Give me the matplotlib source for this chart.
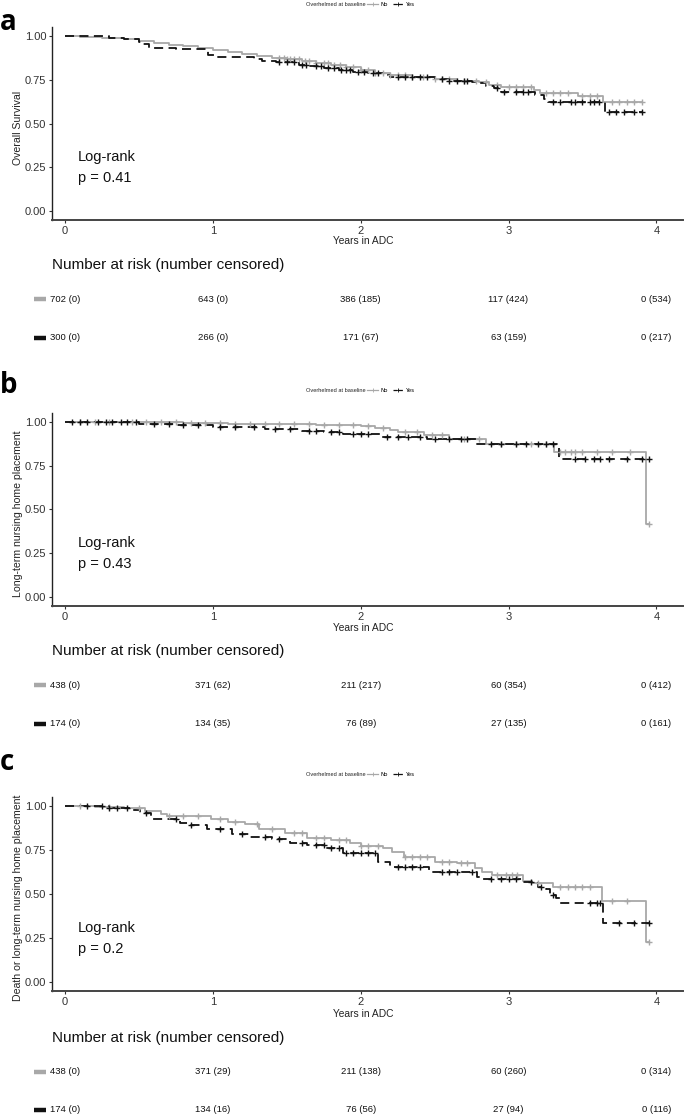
import numpy as np
import matplotlib
matplotlib.use("Agg")
import matplotlib.pyplot as plt
from matplotlib.lines import Line2D
from matplotlib.transforms import blended_transform_factory

W, H = 685, 1114
NARROW = ["Liberation Sans Narrow", "Liberation Sans", "DejaVu Sans"]
REG = ["Liberation Sans", "DejaVu Sans"]
GRAY = "#a8a8a8"
BLACK = "#111111"

# ---------------- data ----------------
# Panel a: overall survival
a_no_t = [0.10, 0.25, 0.40, 0.50, 0.60, 0.70, 0.80, 0.90, 1.00, 1.10, 1.20, 1.30, 1.40, 1.50,
          1.60, 1.70, 1.80, 1.90, 2.00, 2.10, 2.20, 2.35, 2.50, 2.65, 2.80, 2.87, 2.95, 3.17,
          3.21, 3.47, 3.64]
a_no_s = [0.995, 0.99, 0.98, 0.97, 0.96, 0.948, 0.94, 0.93, 0.918, 0.908, 0.897, 0.885, 0.876,
          0.866, 0.855, 0.846, 0.835, 0.822, 0.806, 0.787, 0.775, 0.765, 0.755, 0.745, 0.735,
          0.72, 0.71, 0.69, 0.672, 0.657, 0.623]
a_no_end = 3.90
a_no_cens = [1.45, 1.48, 1.50, 1.52, 1.55, 1.58, 1.62, 1.65, 1.70, 1.75, 1.78, 1.82, 1.86, 1.90,
             1.95, 2.00, 2.05, 2.10, 2.15, 2.20, 2.25, 2.30, 2.35, 2.42, 2.50, 2.55, 2.60, 2.70,
             2.78, 2.85, 2.92, 3.00, 3.05, 3.10, 3.15, 3.25, 3.30, 3.35, 3.40, 3.50, 3.55, 3.60,
             3.70, 3.75, 3.80, 3.85, 3.90]
a_yes_t = [0.15, 0.30, 0.40, 0.50, 0.53, 0.57, 0.75, 0.97, 1.01, 1.28, 1.33, 1.43, 1.58, 1.65,
           1.75, 1.85, 1.95, 2.05, 2.15, 2.20, 2.50, 2.60, 2.75, 2.80, 2.85, 2.90, 2.95, 3.18,
           3.24, 3.27, 3.65]
a_yes_s = [0.997, 0.99, 0.98, 0.965, 0.955, 0.93, 0.922, 0.89, 0.878, 0.865, 0.857, 0.848, 0.835,
           0.826, 0.815, 0.805, 0.795, 0.785, 0.775, 0.763, 0.755, 0.745, 0.738, 0.728, 0.715,
           0.70, 0.68, 0.665, 0.64, 0.62, 0.567]
a_yes_end = 3.90
a_yes_cens = [1.45, 1.50, 1.55, 1.60, 1.63, 1.70, 1.73, 1.78, 1.82, 1.87, 1.90, 1.93, 1.98, 2.02,
              2.08, 2.12, 2.25, 2.30, 2.35, 2.40, 2.45, 2.55, 2.60, 2.65, 2.70, 2.72, 2.92, 2.97,
              3.05, 3.10, 3.13, 3.30, 3.35, 3.42, 3.45, 3.50, 3.55, 3.58, 3.61, 3.68, 3.73, 3.78,
              3.85, 3.90]

# Panel b: long-term nursing home placement
b_no_t = [0.40, 0.80, 1.10, 1.40, 1.70, 2.00, 2.10, 2.20, 2.25, 2.43, 2.60, 2.85, 3.31, 3.93]
b_no_s = [0.998, 0.995, 0.99, 0.985, 0.98, 0.975, 0.965, 0.955, 0.94, 0.926, 0.903, 0.874, 0.83, 0.415]
b_no_end = 3.95
b_no_cens = [0.10, 0.20, 0.30, 0.45, 0.55, 0.65, 0.75, 0.85, 0.95, 1.05, 1.15, 1.25, 1.35, 1.45,
             1.55, 1.65, 1.75, 1.85, 1.95, 2.05, 2.15, 2.30, 2.38, 2.48, 2.55, 2.70, 2.80, 2.95,
             3.05, 3.15, 3.25, 3.35, 3.38, 3.42, 3.45, 3.50, 3.60, 3.70, 3.82, 3.95]
b_yes_t = [0.50, 0.75, 1.00, 1.35, 1.60, 1.75, 1.88, 2.13, 2.45, 2.78, 3.34]
b_yes_s = [0.99, 0.98, 0.97, 0.96, 0.95, 0.94, 0.93, 0.915, 0.90, 0.873, 0.787]
b_yes_end = 3.95
b_yes_cens = [0.05, 0.10, 0.15, 0.22, 0.28, 0.32, 0.38, 0.42, 0.48, 0.60, 0.70, 0.80, 0.90, 1.05,
              1.15, 1.28, 1.42, 1.52, 1.65, 1.70, 1.80, 1.85, 1.95, 2.00, 2.05, 2.18, 2.25, 2.32,
              2.40, 2.50, 2.60, 2.68, 2.72, 2.88, 2.95, 3.05, 3.12, 3.20, 3.25, 3.30, 3.45, 3.52,
              3.58, 3.62, 3.68, 3.80, 3.90, 3.95]

# Panel c: death or long-term nursing home placement
c_no_t = [0.20, 0.40, 0.54, 0.65, 0.69, 0.99, 1.10, 1.22, 1.31, 1.49, 1.64, 1.80, 1.93, 2.00,
          2.15, 2.21, 2.29, 2.50, 2.65, 2.77, 2.82, 2.89, 3.10, 3.16, 3.30, 3.63, 3.93]
c_no_s = [0.995, 0.985, 0.97, 0.955, 0.943, 0.924, 0.91, 0.895, 0.867, 0.848, 0.82, 0.805, 0.79,
          0.775, 0.76, 0.74, 0.712, 0.682, 0.674, 0.65, 0.627, 0.608, 0.576, 0.561, 0.538, 0.462, 0.23]
c_no_end = 3.95
c_no_cens = [0.10, 0.30, 0.50, 0.70, 0.80, 0.90, 1.05, 1.15, 1.30, 1.40, 1.55, 1.60, 1.70, 1.75,
             1.85, 1.90, 2.00, 2.05, 2.12, 2.30, 2.35, 2.40, 2.45, 2.55, 2.60, 2.68, 2.72, 2.92,
             2.98, 3.02, 3.06, 3.20, 3.35, 3.40, 3.45, 3.50, 3.55, 3.70, 3.80, 3.95]
c_yes_t = [0.30, 0.45, 0.51, 0.58, 0.78, 0.84, 0.96, 1.13, 1.25, 1.40, 1.52, 1.64, 1.76, 1.88,
           2.12, 2.20, 2.46, 2.79, 2.83, 3.10, 3.20, 3.25, 3.28, 3.32, 3.35, 3.64]
c_yes_s = [0.99, 0.977, 0.958, 0.928, 0.905, 0.89, 0.867, 0.842, 0.823, 0.81, 0.79, 0.776, 0.762,
           0.732, 0.683, 0.655, 0.627, 0.598, 0.585, 0.568, 0.542, 0.528, 0.494, 0.48, 0.447, 0.333]
c_yes_end = 3.95
c_yes_cens = [0.15, 0.25, 0.30, 0.35, 0.42, 0.55, 0.75, 0.85, 1.05, 1.20, 1.35, 1.45, 1.60, 1.70,
              1.75, 1.80, 1.85, 1.90, 1.95, 2.00, 2.05, 2.10, 2.25, 2.30, 2.35, 2.40, 2.55, 2.60,
              2.65, 2.75, 2.88, 2.95, 3.00, 3.05, 3.15, 3.22, 3.30, 3.55, 3.60, 3.62, 3.75, 3.85, 3.95]

risk_times = [0, 1, 2, 3, 4]
a_no_risk = [702, 643, 386, 117, 0]
a_no_cens_n = [0, 0, 185, 424, 534]
a_yes_risk = [300, 266, 171, 63, 0]
a_yes_cens_n = [0, 0, 67, 159, 217]
b_no_risk = [438, 371, 211, 60, 0]
b_no_cens_n = [0, 62, 217, 354, 412]
b_yes_risk = [174, 134, 76, 27, 0]
b_yes_cens_n = [0, 35, 89, 135, 161]
c_no_risk = [438, 371, 211, 60, 0]
c_no_cens_n = [0, 29, 138, 260, 314]
c_yes_risk = [174, 134, 76, 27, 0]
c_yes_cens_n = [0, 16, 56, 94, 116]

ylabels = ["Overall Survival", "Long-term nursing home placement",
           "Death or long-term nursing home placement"]
pvals = ["p = 0.41", "p = 0.43", "p = 0.2"]
letters = ["a", "b", "c"]
yticks = [0.0, 0.25, 0.5, 0.75, 1.0]
ytick_labels = ["0.00", "0.25", "0.50", "0.75", "1.00"]

# ---------------- layout (pixel positions) ----------------
panels = [
    dict(top=27, bottom=220, letter_y=30, legend_y=4, xt_y=241, title_y=265, r1=299, r2=338,
         no=(a_no_t, a_no_s, a_no_end, a_no_cens), yes=(a_yes_t, a_yes_s, a_yes_end, a_yes_cens),
         risk=((a_no_risk, a_no_cens_n), (a_yes_risk, a_yes_cens_n))),
    dict(top=413, bottom=606, letter_y=393, legend_y=390, xt_y=628, title_y=651, r1=685, r2=724,
         no=(b_no_t, b_no_s, b_no_end, b_no_cens), yes=(b_yes_t, b_yes_s, b_yes_end, b_yes_cens),
         risk=((b_no_risk, b_no_cens_n), (b_yes_risk, b_yes_cens_n))),
    dict(top=797, bottom=991, letter_y=770, legend_y=774, xt_y=1014, title_y=1038, r1=1072, r2=1110,
         no=(c_no_t, c_no_s, c_no_end, c_no_cens), yes=(c_yes_t, c_yes_s, c_yes_end, c_yes_cens),
         risk=((c_no_risk, c_no_cens_n), (c_yes_risk, c_yes_cens_n))),
]

def fx(px):
    return px / W

def fy(py):
    return 1 - py / H

fig = plt.figure(figsize=(W / 100, H / 100), dpi=100)
fig.patch.set_facecolor("white")

AX_L, AX_R = 52, 683


def draw_curve(ax, t, s, end, cens, color, ls):
    tt = np.concatenate([[0.0], np.asarray(t), [end]])
    ss = np.concatenate([[1.0], np.asarray(s), [np.asarray(s)[-1]]])
    ax.step(tt, ss, where="post", color=color, lw=1.3, ls=ls, solid_capstyle="butt",
            dashes=(5, 3) if ls == "--" else (None, None), zorder=3)
    c = np.asarray(cens)
    idx = np.searchsorted(np.asarray(t), c, side="right")
    sv = np.concatenate([[1.0], np.asarray(s)])[idx]
    ax.plot(c, sv, ls="none", marker="+", ms=4.5, mew=1.0, color=color, zorder=4)


for i, p in enumerate(panels):
    ax = fig.add_axes([fx(AX_L), fy(p["bottom"]), fx(AX_R - AX_L), (p["bottom"] - p["top"]) / H])
    ax.set_xlim(-0.088, 4.18)
    ax.set_ylim(-0.05, 1.05)
    for sp in ["top", "right"]:
        ax.spines[sp].set_visible(False)
    ax.spines["left"].set_linewidth(1.0)
    ax.spines["bottom"].set_linewidth(1.4)
    ax.spines["left"].set_color("#222222")
    ax.spines["bottom"].set_color("#444444")
    ax.set_yticks(yticks)
    ax.set_yticklabels(ytick_labels)
    ax.set_xticks(risk_times)
    ax.tick_params(length=2.5, width=0.8, color="#333333", labelsize=8, labelcolor="#333333", pad=1.5)
    for lab in ax.get_xticklabels() + ax.get_yticklabels():
        lab.set_family(NARROW)

    draw_curve(ax, *p["no"], GRAY, "-")
    draw_curve(ax, *p["yes"], BLACK, "--")

    # y label
    fig.text(fx(18), fy((p["top"] + p["bottom"]) / 2 + 4), ylabels[i], rotation=90, ha="center",
             va="center", fontsize=7.6, family=REG, color="#222222")
    # x label
    fig.text(fx(363), fy(p["xt_y"]), "Years in ADC", ha="center", va="center", fontsize=7.4,
             family=REG, color="#222222")
    # panel letter
    fig.text(fx(0), fy(p["letter_y"]), letters[i], ha="left", va="baseline", fontsize=20,
             fontweight="bold", family=["Open Sans", "DejaVu Sans"])
    # log-rank
    fig.text(fx(78), fy(p["bottom"] - 63), "Log-rank", ha="left", va="center", fontsize=10.5,
             family=NARROW, color="#111111")
    fig.text(fx(78), fy(p["bottom"] - 42), pvals[i], ha="left", va="center", fontsize=10.5,
             family=NARROW, color="#111111")

    # legend
    fig.text(fx(366), fy(p["legend_y"]), "Overhelmed at baseline", ha="right", va="center",
             fontsize=4.1, family=REG, color="#222222")
    handles = [Line2D([], [], color=GRAY, lw=0.9, marker="+", ms=3, mew=0.6),
               Line2D([], [], color=BLACK, lw=0.9, ls=(0, (3, 1.5)), marker="+", ms=3, mew=0.6)]
    fig.legend(handles, ["No", "Yes"], loc="center left", bbox_to_anchor=(fx(367), fy(p["legend_y"])),
               ncol=2, frameon=False, fontsize=4.1, handlelength=2.0, handletextpad=0.4,
               columnspacing=0.8, borderpad=0, borderaxespad=0)

    # risk table
    fig.text(fx(52), fy(p["title_y"]), "Number at risk (number censored)", ha="left", va="center",
             fontsize=11, family=NARROW, color="#111111")
    tr = blended_transform_factory(ax.transData, fig.transFigure)
    for (nrisk, ncens), ry, col in zip(p["risk"], (p["r1"], p["r2"]), (GRAY, BLACK)):
        fig.add_artist(Line2D([fx(34), fx(46)], [fy(ry), fy(ry)], color=col, lw=3.2,
                              solid_capstyle="butt", transform=fig.transFigure))
        for tm, n, c in zip(risk_times, nrisk, ncens):
            ax.text(tm, fy(ry), f"{n} ({c})", transform=tr, ha="center", va="center",
                    fontsize=6.8, family=NARROW, color="#111111", clip_on=False)

fig.savefig("out.png", dpi=100, facecolor="white")
